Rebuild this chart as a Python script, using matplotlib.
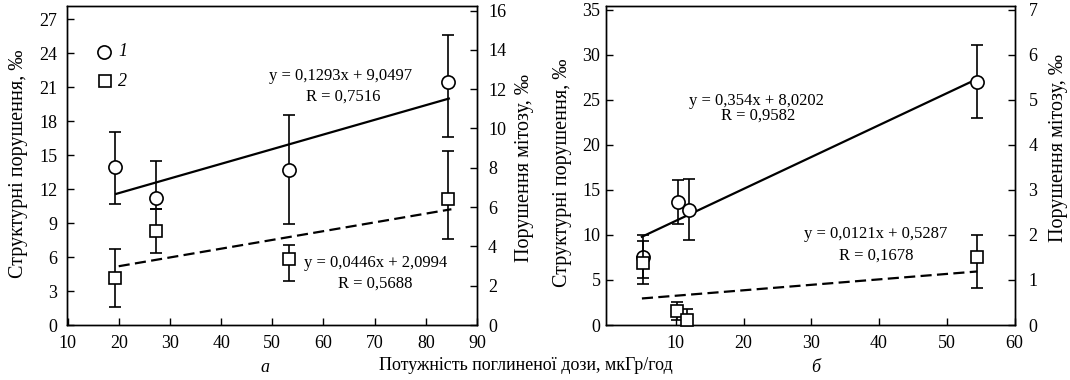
import matplotlib
matplotlib.use("Agg")
import matplotlib.pyplot as plt

plt.rcParams['font.family'] = ['Liberation Serif', 'DejaVu Serif']

# ---------------- data: panel a ----------------
a_x_circ = [19.3, 27.2, 53.2, 84.3]
a_y_circ = [13.9, 11.2, 13.7, 21.4]
a_circ_lo = [10.7, 10.2, 8.9, 16.6]
a_circ_hi = [17.0, 14.5, 18.5, 25.6]

a_x_sq = [19.3, 27.2, 53.2, 84.4]
a_y_sq = [2.38, 4.78, 3.34, 6.40]
a_sq_lo = [0.90, 3.65, 2.24, 4.38]
a_sq_hi = [3.87, 5.89, 4.07, 8.87]

a_fit1_x = [19.5, 84.5]
a_fit1_y = [11.57, 19.98]
a_fit2_x = [20.0, 85.0]
a_fit2_y = [2.99, 5.89]

a_eq1 = ["y = 0,1293x + 9,0497", "R = 0,7516"]
a_eq2 = ["y = 0,0446x + 2,0994", "R = 0,5688"]
a_xticks = [10, 20, 30, 40, 50, 60, 70, 80, 90]
a_yticks_l = [0, 3, 6, 9, 12, 15, 18, 21, 24, 27]
a_yticks_r = [0, 2, 4, 6, 8, 10, 12, 14, 16]

# ---------------- data: panel b ----------------
b_x_circ = [5.2, 10.3, 11.9, 54.4]
b_y_circ = [7.5, 13.6, 12.8, 27.0]
b_circ_lo = [5.26, 11.2, 9.4, 23.0]
b_circ_hi = [10.0, 16.1, 16.2, 31.1]

b_x_sq = [5.1, 10.2, 11.7, 54.4]
b_y_sq = [1.38, 0.30, 0.10, 1.51]
b_sq_lo = [0.90, 0.10, 0.00, 0.83]
b_sq_hi = [1.86, 0.50, 0.35, 1.99]

b_fit1_x = [5.0, 54.5]
b_fit1_y = [9.79, 27.31]
b_fit2_x = [5.0, 54.5]
b_fit2_y = [0.589, 1.188]

b_eq1 = ["y = 0,354x + 8,0202", "R = 0,9582"]
b_eq2 = ["y = 0,0121x + 0,5287", "R = 0,1678"]
b_xticks = [10, 20, 30, 40, 50, 60]
b_yticks_l = [0, 5, 10, 15, 20, 25, 30, 35]
b_yticks_r = [0, 1, 2, 3, 4, 5, 6, 7]

ylabel_l = "Структурні порушення, ‰"
ylabel_r = "Порушення мітозу, ‰"
xlabel = "Потужність поглиненої дози, мкГр/год"
legend_labels = ["1", "2"]

W, H = 1070, 380
fig = plt.figure(figsize=(W / 100, H / 100), dpi=100)

FS = 13      # tick labels
LFS = 14.5   # y axis labels
XFS = 13     # x label
TFS = 12     # equations


def style(ax, side, lpad):
    for s in ax.spines.values():
        s.set_linewidth(1.0)
    ax.tick_params(direction='in', length=5, width=1.0, labelsize=FS)
    ax.tick_params(axis='x', top=False, pad=7)
    if side == 'left':
        ax.tick_params(axis='y', left=True, right=False, pad=lpad)
    else:
        ax.tick_params(axis='y', left=False, right=True, pad=lpad)


def errs(y, lo, hi):
    return [[yy - l for yy, l in zip(y, lo)], [h - yy for yy, h in zip(y, hi)]]


def panel(rect, xs_c, ys_c, lo_c, hi_c, xs_s, ys_s, lo_s, hi_s,
          f1x, f1y, f2x, f2y, xlim, ylim_l, ylim_r, xt, ytl, ytr, lpad, rpad):
    ax = fig.add_axes(rect)
    ax2 = ax.twinx()
    ax.set_xlim(*xlim)
    ax.set_ylim(*ylim_l)
    ax2.set_ylim(*ylim_r)
    ax.set_xticks(xt)
    ax.set_yticks(ytl)
    ax2.set_yticks(ytr)
    style(ax, 'left', lpad)
    style(ax2, 'right', rpad)
    ax.plot(f1x, f1y, color='black', lw=1.6, zorder=2)
    ax.errorbar(xs_c, ys_c, yerr=errs(ys_c, lo_c, hi_c), fmt='none',
                ecolor='black', elinewidth=1.2, capsize=4.5, capthick=1.2, zorder=3)
    ax.plot(xs_c, ys_c, 'o', ms=9.5, mfc='white', mec='black', mew=1.2, zorder=4,
            clip_on=False)
    ax2.plot(f2x, f2y, color='black', lw=1.6, ls=(0, (5, 2.4)), zorder=2)
    ax2.errorbar(xs_s, ys_s, yerr=errs(ys_s, lo_s, hi_s), fmt='none',
                 ecolor='black', elinewidth=1.2, capsize=4.5, capthick=1.2, zorder=3)
    ax2.plot(xs_s, ys_s, 's', ms=8.5, mfc='white', mec='black', mew=1.2, zorder=4,
             clip_on=False)
    return ax, ax2


axA, axA2 = panel([67 / W, 1 - 325 / H, (477 - 67) / W, (325 - 6) / H],
                  a_x_circ, a_y_circ, a_circ_lo, a_circ_hi,
                  a_x_sq, a_y_sq, a_sq_lo, a_sq_hi,
                  a_fit1_x, a_fit1_y, a_fit2_x, a_fit2_y,
                  (9.9, 90), (0, 28.15), (0, 16.23),
                  a_xticks, a_yticks_l, a_yticks_r, 7, 8)

axA.text(63.4, 22.0, a_eq1[0], ha='center', va='center', fontsize=TFS)
axA.text(63.8, 20.15, a_eq1[1], ha='center', va='center', fontsize=TFS)
axA.text(70.1, 5.5, a_eq2[0], ha='center', va='center', fontsize=TFS)
axA.text(70.1, 3.68, a_eq2[1], ha='center', va='center', fontsize=TFS)

# legend
axA.plot([17.1], [24.1], 'o', ms=9.5, mfc='white', mec='black', mew=1.2)
axA.text(19.9, 24.1, legend_labels[0], ha='left', va='center', fontsize=FS, style='italic')
axA.plot([17.3], [21.5], 's', ms=8.5, mfc='white', mec='black', mew=1.2)
axA.text(19.9, 21.5, legend_labels[1], ha='left', va='center', fontsize=FS, style='italic')

axB, axB2 = panel([606 / W, 1 - 325 / H, (1014.5 - 606) / W, (325 - 6) / H],
                  b_x_circ, b_y_circ, b_circ_lo, b_circ_hi,
                  b_x_sq, b_y_sq, b_sq_lo, b_sq_hi,
                  b_fit1_x, b_fit1_y, b_fit2_x, b_fit2_y,
                  (-0.3, 60), (0, 35.4), (0, 7.08),
                  b_xticks, b_yticks_l, b_yticks_r, 4, 10)

axB.text(21.9, 24.9, b_eq1[0], ha='center', va='center', fontsize=TFS)
axB.text(22.1, 23.2, b_eq1[1], ha='center', va='center', fontsize=TFS)
axB.text(39.5, 10.1, b_eq2[0], ha='center', va='center', fontsize=TFS)
axB.text(39.6, 7.67, b_eq2[1], ha='center', va='center', fontsize=TFS)

# axis labels
fig.text(19 / W, 1 - 164 / H, ylabel_l, rotation=90, ha='center', va='center', fontsize=LFS)
fig.text(525 / W, 1 - 168 / H, ylabel_r, rotation=90, ha='center', va='center', fontsize=LFS)
fig.text(563 / W, 1 - 173 / H, ylabel_l, rotation=90, ha='center', va='center', fontsize=LFS)
fig.text(1058 / W, 1 - 148 / H, ylabel_r, rotation=90, ha='center', va='center', fontsize=LFS)
fig.text(525.5 / W, 1 - 365 / H, xlabel, ha='center', va='center', fontsize=XFS)
fig.text(265 / W, 1 - 367 / H, "а", ha='center', va='center', fontsize=XFS, style='italic')
fig.text(816 / W, 1 - 367 / H, "б", ha='center', va='center', fontsize=XFS, style='italic')

fig.savefig("out.png", dpi=100)
